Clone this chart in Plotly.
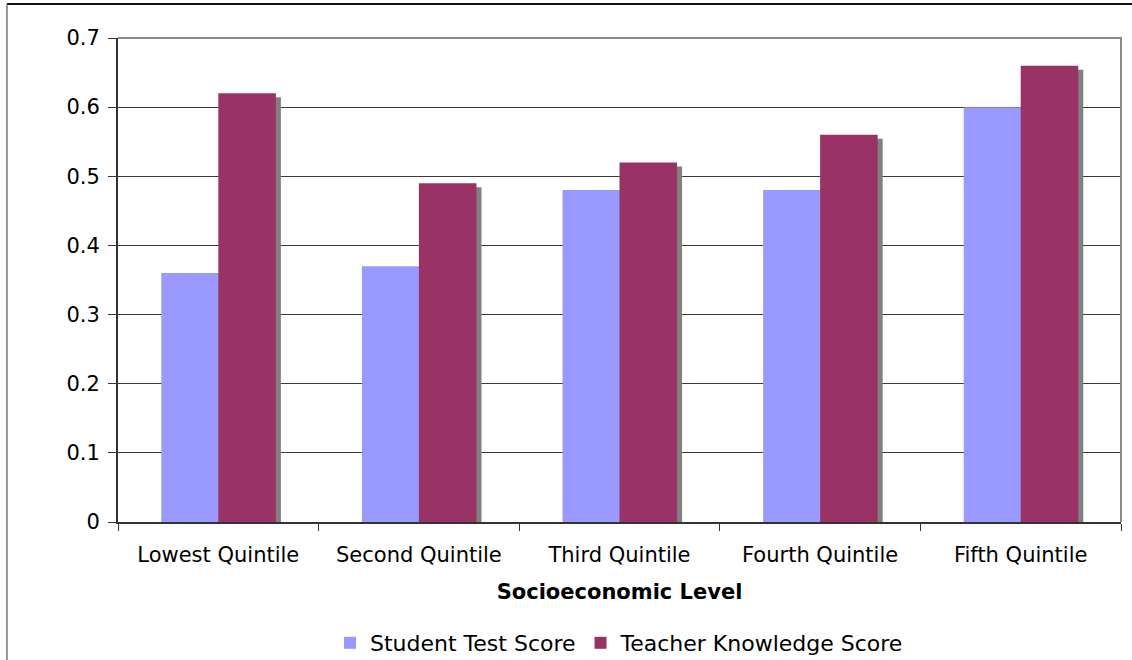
import plotly.graph_objects as go

categories = ["Lowest Quintile", "Second Quintile", "Third Quintile", "Fourth Quintile", "Fifth Quintile"]
student_scores = [0.36, 0.37, 0.48, 0.48, 0.60]
teacher_scores = [0.62, 0.49, 0.52, 0.56, 0.66]
y_ticks = [0, 0.1, 0.2, 0.3, 0.4, 0.5, 0.6, 0.7]
y_tick_labels = ["0", "0.1", "0.2", "0.3", "0.4", "0.5", "0.6", "0.7"]

FONT = "DejaVu Sans, Verdana, sans-serif"
BAR_W = 0.287
SHADOW_DY = 0.0058  # small vertical drop of the drop shadow in data units

fig = go.Figure()
# drop shadow behind teacher bars
fig.add_trace(go.Bar(
    x=categories, y=[v - SHADOW_DY for v in teacher_scores],
    width=BAR_W, offset=0.025, marker=dict(color="#808080", line=dict(width=0)),
    showlegend=False, hoverinfo="skip"))
fig.add_trace(go.Bar(
    x=categories, y=student_scores, name="Student Test Score",
    width=BAR_W, offset=-0.284, marker=dict(color="#9999FF", line=dict(width=0))))
fig.add_trace(go.Bar(
    x=categories, y=teacher_scores, name="Teacher Knowledge Score",
    width=BAR_W, offset=0.0, marker=dict(color="#993366", line=dict(width=0))))

fig.update_layout(
    width=1132, height=660,
    margin=dict(l=118, r=11, t=38, b=138, autoexpand=False),
    barmode="overlay",
    plot_bgcolor="white", paper_bgcolor="white",
    font=dict(family=FONT, size=21, color="black"),
    showlegend=True,
    legend=dict(orientation="h", x=0.5, xanchor="center", y=-0.25, yanchor="middle",
                font=dict(size=22), itemwidth=30, tracegroupgap=0, bgcolor="rgba(0,0,0,0)"),
    xaxis=dict(
        type="category", showgrid=False, showline=True, linecolor="#333", linewidth=2,
        ticks="outside", tickson="boundaries", ticklen=7, tickcolor="#333", tickwidth=1,
        ticklabelstandoff=13, tickfont=dict(size=21), automargin=False,
        title=dict(text="<b>Socioeconomic Level</b>", font=dict(size=21), standoff=18),
        range=[-0.5, 4.5]),
    yaxis=dict(
        range=[0, 0.7], tickvals=y_ticks, ticktext=y_tick_labels,
        showgrid=True, gridcolor="#3a3a3a", gridwidth=1,
        showline=True, linecolor="#333", linewidth=2,
        ticks="outside", ticklen=8, tickcolor="#333", tickwidth=1, automargin=False,
        ticklabelstandoff=4, tickfont=dict(size=21), zeroline=False),
    shapes=[
        # plot-area border (top/right gray)
        dict(type="path", xref="paper", yref="paper",
             path="M 0 1 L 1 1 L 1 0", line=dict(color="#8a8a8a", width=2), layer="above"),
        # chart outer border
        dict(type="line", xref="paper", yref="paper", x0=-0.1107, x1=1.2, y0=1.0702, y1=1.0702,
             line=dict(color="#111", width=2)),
        dict(type="line", xref="paper", yref="paper", x0=-0.1107, x1=-0.1107, y0=-0.4, y1=1.0702,
             line=dict(color="#777", width=1.5)),
    ],
)

fig.write_html("out.html", config={"displayModeBar": False},
               post_script="document.body.style.margin='0';")
